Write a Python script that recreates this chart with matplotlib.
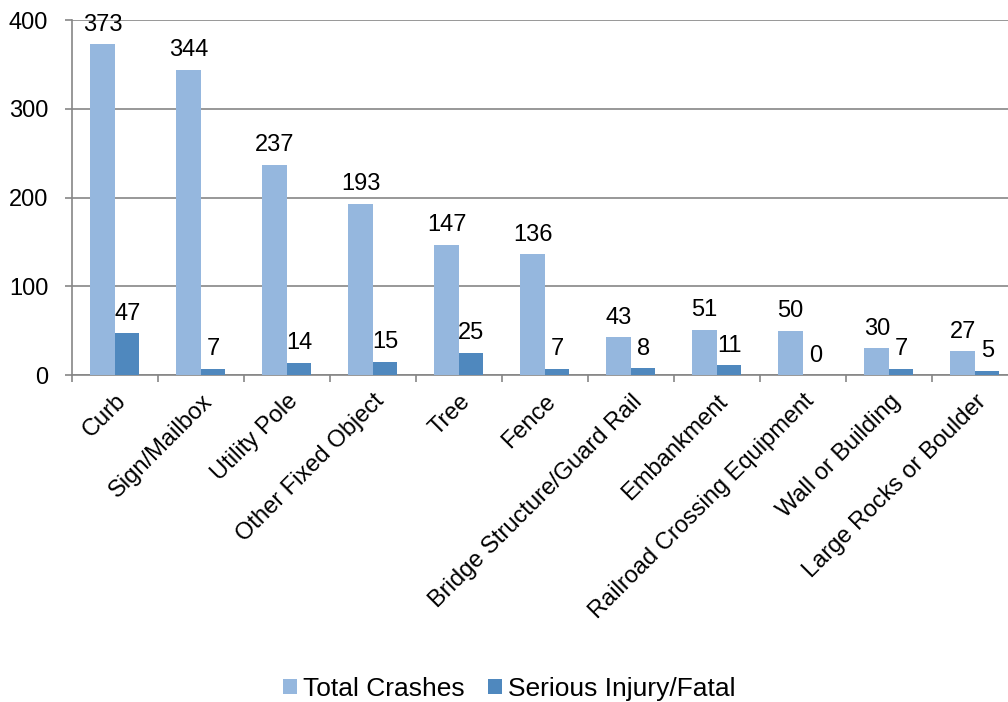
import numpy as np
import matplotlib.pyplot as plt
from matplotlib.transforms import ScaledTranslation

categories = ['Curb', 'Sign/Mailbox', 'Utility Pole', 'Other Fixed Object', 'Tree', 'Fence',
              'Bridge Structure/Guard Rail', 'Embankment', 'Railroad Crossing Equipment',
              'Wall or Building', 'Large Rocks or Boulder']
total_crashes = [373, 344, 237, 193, 147, 136, 43, 51, 50, 30, 27]
serious_fatal = [47, 7, 14, 15, 25, 7, 8, 11, 0, 7, 5]

plt.rcParams['font.family'] = ['Liberation Sans', 'DejaVu Sans']

fig = plt.figure(figsize=(10.08, 7.02), dpi=100)
ax = fig.add_axes([0.0714, 0.4658, 0.9385, 0.5057])

x = np.arange(len(categories))
w = 0.285
light = '#95b7de'
dark = '#4f88be'
b1 = ax.bar(x - w/2, total_crashes, w, color=light, label='Total Crashes', zorder=3)
b2 = ax.bar(x + w/2, serious_fatal, w, color=dark, label='Serious Injury/Fatal', zorder=3)

for bars, vals in ((b1, total_crashes), (b2, serious_fatal)):
    for b, v in zip(bars, vals):
        ax.annotate(str(v), (b.get_x() + b.get_width()/2, v), xytext=(0, 6),
                    textcoords='offset points', ha='center', va='bottom', fontsize=17)

ax.set_xlim(-0.5, len(categories) - 0.5)
ax.set_ylim(0, 400)
ax.set_yticks([0, 100, 200, 300, 400])
ax.yaxis.grid(True, color='#868686', linewidth=1.2, zorder=0)
ax.set_axisbelow(True)

ax.set_xticks(np.arange(len(categories) + 1) - 0.5, minor=False)
ax.set_xticklabels([])
ax.set_xticks(x, minor=True)
ax.set_xticklabels(categories, minor=True, rotation=45, ha='right', va='top',
                   rotation_mode='anchor', fontsize=17)
shift = ScaledTranslation(-6/100, 0, fig.dpi_scale_trans)
for lbl in ax.get_xticklabels(minor=True):
    lbl.set_transform(lbl.get_transform() + shift)
ax.tick_params(axis='x', which='major', length=5, color='#868686', width=1.2)
ax.tick_params(axis='x', which='minor', length=0, pad=11)
ax.tick_params(axis='y', length=5, color='#868686', width=1.2, labelsize=17, pad=12)

for s in ['top', 'right']:
    ax.spines[s].set_visible(False)
for s in ['left', 'bottom']:
    ax.spines[s].set_color('#868686')
    ax.spines[s].set_linewidth(1.2)

fig.legend(handles=[b1, b2], loc='center', bbox_to_anchor=(0.5055, 0.019), ncol=2, frameon=False,
           fontsize=19, handlelength=0.5, handleheight=0.5, handletextpad=0.25, columnspacing=0.9,
           borderpad=0)

fig.savefig('out.png', dpi=100)
